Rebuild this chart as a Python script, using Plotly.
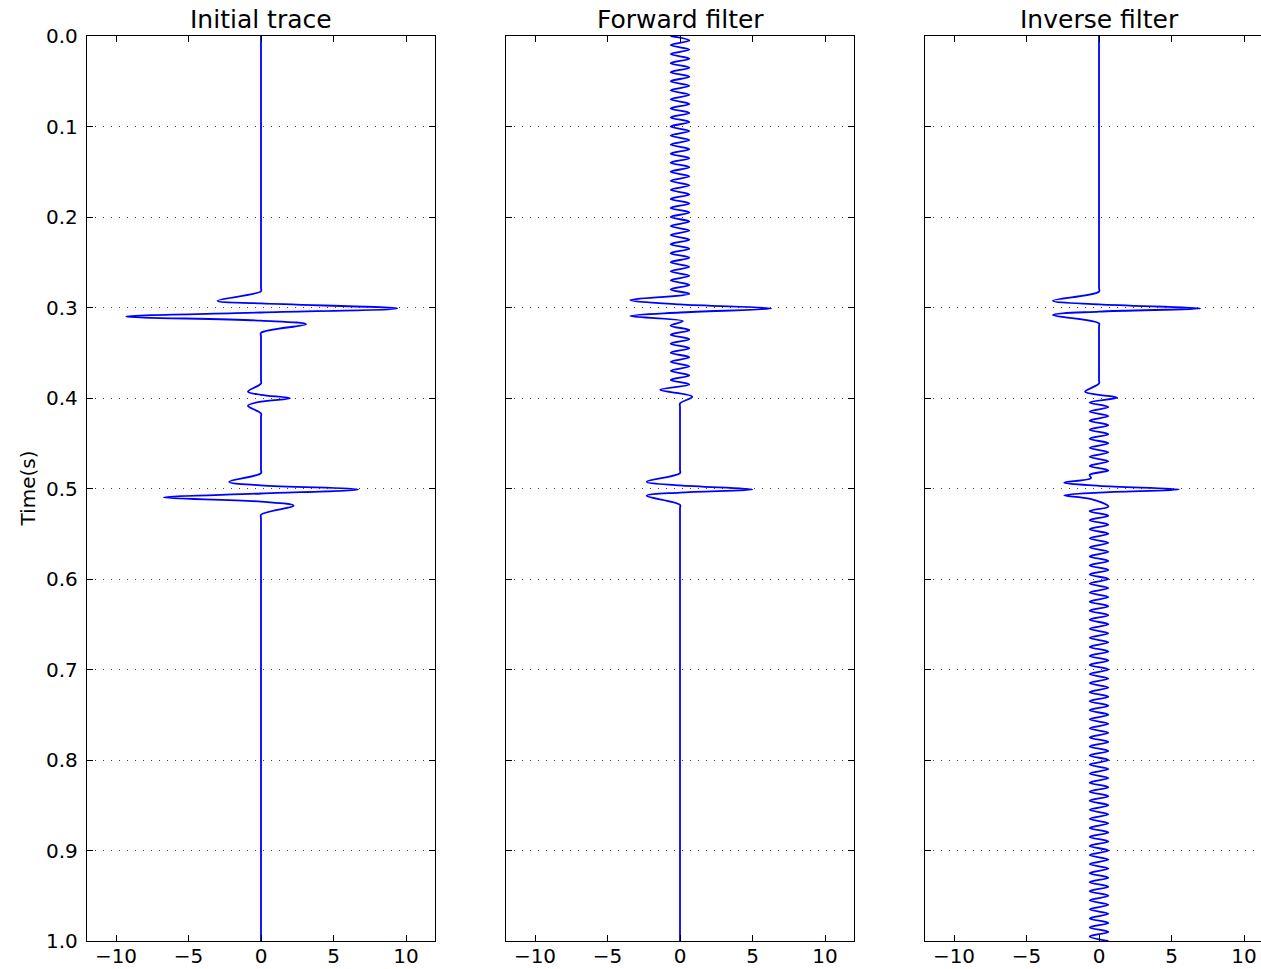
import plotly.graph_objects as go

# ---------------- data (time in s, amplitude) ----------------
TITLES = ["Initial trace", "Forward filter", "Inverse filter"]
Y_TICKS = [0.0, 0.1, 0.2, 0.3, 0.4, 0.5, 0.6, 0.7, 0.8, 0.9, 1.0]
Y_TICK_TEXT = ["0.0", "0.1", "0.2", "0.3", "0.4", "0.5", "0.6", "0.7", "0.8", "0.9", "1.0"]
X_TICKS = [-10, -5, 0, 5, 10]
X_TICK_TEXT = ["\u221210", "\u22125", "0", "5", "10"]

# Initial trace: key points (extrema / zero crossings)
INIT_T = [0.000, 0.278, 0.282, 0.2925, 0.2955, 0.301, 0.3055, 0.310, 0.3145, 0.3185,
          0.328, 0.332, 0.380, 0.384, 0.393, 0.3965, 0.4003, 0.404, 0.4085, 0.417,
          0.421, 0.479, 0.483, 0.4925, 0.4965, 0.501, 0.5055, 0.510, 0.5145, 0.519,
          0.529, 0.533, 1.000]
INIT_A = [0.0, 0.0, 0.0, -3.0, 0.0, 9.4, 0.0, -9.3, 0.0, 3.1,
          0.0, 0.0, 0.0, 0.0, -0.9, 0.0, 2.0, 0.0, -0.9, 0.0,
          0.0, 0.0, 0.0, -2.2, 0.0, 6.7, 0.0, -6.7, 0.0, 2.25,
          0.0, 0.0, 0.0]

# Forward filter: ringing before 0.3 s
FWD_RING1_T = [0.000, 0.005, 0.010, 0.015, 0.020, 0.025, 0.030, 0.035, 0.040, 0.045,
               0.050, 0.055, 0.060, 0.065, 0.070, 0.075, 0.080, 0.085, 0.090, 0.095,
               0.100, 0.105, 0.110, 0.115, 0.120, 0.125, 0.130, 0.135, 0.140, 0.145,
               0.150, 0.155, 0.160, 0.165, 0.170, 0.175, 0.180, 0.185, 0.190, 0.195,
               0.200, 0.205, 0.210, 0.215, 0.220, 0.225, 0.230, 0.235, 0.240, 0.245,
               0.250, 0.255, 0.260, 0.265, 0.270, 0.275, 0.280, 0.285]
FWD_RING1_A = [-0.65, 0.65, -0.65, 0.65, -0.65, 0.65, -0.65, 0.65, -0.65, 0.65,
               -0.65, 0.65, -0.65, 0.65, -0.65, 0.65, -0.65, 0.65, -0.65, 0.65,
               -0.65, 0.65, -0.65, 0.65, -0.65, 0.65, -0.65, 0.65, -0.65, 0.65,
               -0.65, 0.65, -0.65, 0.65, -0.65, 0.65, -0.65, 0.65, -0.65, 0.65,
               -0.65, 0.65, -0.65, 0.65, -0.65, 0.65, -0.65, 0.65, -0.65, 0.65,
               -0.65, 0.65, -0.65, 0.65, -0.65, 0.65, -0.65, 0.65]
FWD_EVENT1_T = [0.2917, 0.2965, 0.301, 0.3055, 0.3094, 0.315]
FWD_EVENT1_A = [-3.43, 0.0, 6.3, 0.0, -3.43, 0.2]
FWD_RING2_T = [0.320, 0.325, 0.330, 0.335, 0.340, 0.345, 0.350, 0.355, 0.360, 0.365,
               0.370, 0.375, 0.380, 0.385]
FWD_RING2_A = [-0.65, 0.65, -0.65, 0.65, -0.65, 0.65, -0.65, 0.65, -0.65, 0.65,
               -0.65, 0.65, -0.65, 0.65]
FWD_TAIL_T = [0.391, 0.3985, 0.406, 0.410, 0.479, 0.483, 0.4925, 0.4965, 0.501, 0.5045,
              0.508, 0.518, 0.522, 1.000]
FWD_TAIL_A = [-1.37, 0.84, 0.0, 0.0, 0.0, 0.0, -2.3, 0.0, 5.0, 0.0,
              -2.3, 0.0, 0.0, 0.0]

# Inverse filter
INV_HEAD_T = [0.000, 0.278, 0.2825, 0.2925, 0.2965, 0.301, 0.3045, 0.3083, 0.3175, 0.3215,
              0.380, 0.384, 0.393, 0.3965, 0.3997]
INV_HEAD_A = [0.0, 0.0, 0.0, -3.18, 0.0, 7.0, 0.0, -3.18, 0.0, 0.0,
              0.0, 0.0, -0.96, 0.0, 1.25]
INV_RING1_T = [0.405, 0.410, 0.415, 0.420, 0.425, 0.430, 0.435, 0.440, 0.445, 0.450,
               0.455, 0.460, 0.465, 0.470, 0.475, 0.480, 0.485]
INV_RING1_A = [-0.65, 0.65, -0.65, 0.65, -0.65, 0.65, -0.65, 0.65, -0.65, 0.65,
               -0.65, 0.65, -0.65, 0.65, -0.65, 0.65, -0.65]
INV_EVENT_T = [0.4885, 0.4935, 0.497, 0.501, 0.5045, 0.5076, 0.5115]
INV_EVENT_A = [-0.55, -2.4, 0.0, 5.53, 0.0, -2.4, -0.6]
INV_RING2_T = [0.520, 0.525, 0.530, 0.535, 0.540, 0.545, 0.550, 0.555, 0.560, 0.565,
               0.570, 0.575, 0.580, 0.585, 0.590, 0.595, 0.600, 0.605, 0.610, 0.615,
               0.620, 0.625, 0.630, 0.635, 0.640, 0.645, 0.650, 0.655, 0.660, 0.665,
               0.670, 0.675, 0.680, 0.685, 0.690, 0.695, 0.700, 0.705, 0.710, 0.715,
               0.720, 0.725, 0.730, 0.735, 0.740, 0.745, 0.750, 0.755, 0.760, 0.765,
               0.770, 0.775, 0.780, 0.785, 0.790, 0.795, 0.800, 0.805, 0.810, 0.815,
               0.820, 0.825, 0.830, 0.835, 0.840, 0.845, 0.850, 0.855, 0.860, 0.865,
               0.870, 0.875, 0.880, 0.885, 0.890, 0.895, 0.900, 0.905, 0.910, 0.915,
               0.920, 0.925, 0.930, 0.935, 0.940, 0.945, 0.950, 0.955, 0.960, 0.965,
               0.970, 0.975, 0.980, 0.985, 0.990, 0.995, 1.000]
INV_RING2_A = [0.65, -0.65, 0.65, -0.65, 0.65, -0.65, 0.65, -0.65, 0.65, -0.65,
               0.65, -0.65, 0.65, -0.65, 0.65, -0.65, 0.65, -0.65, 0.65, -0.65,
               0.65, -0.65, 0.65, -0.65, 0.65, -0.65, 0.65, -0.65, 0.65, -0.65,
               0.65, -0.65, 0.65, -0.65, 0.65, -0.65, 0.65, -0.65, 0.65, -0.65,
               0.65, -0.65, 0.65, -0.65, 0.65, -0.65, 0.65, -0.65, 0.65, -0.65,
               0.65, -0.65, 0.65, -0.65, 0.65, -0.65, 0.65, -0.65, 0.65, -0.65,
               0.65, -0.65, 0.65, -0.65, 0.65, -0.65, 0.65, -0.65, 0.65, -0.65,
               0.65, -0.65, 0.65, -0.65, 0.65, -0.65, 0.65, -0.65, 0.65, -0.65,
               0.65, -0.65, 0.65, -0.65, 0.65, -0.65, 0.65, -0.65, 0.65, -0.65,
               0.65, -0.65, 0.65, -0.65, 0.65, -0.65, 0.65]

traces = [
    (INIT_T, INIT_A),
    (FWD_RING1_T + FWD_EVENT1_T + FWD_RING2_T + FWD_TAIL_T,
     FWD_RING1_A + FWD_EVENT1_A + FWD_RING2_A + FWD_TAIL_A),
    (INV_HEAD_T + INV_RING1_T + INV_EVENT_T + INV_RING2_T,
     INV_HEAD_A + INV_RING1_A + INV_EVENT_A + INV_RING2_A),
]

# ---------------- layout geometry ----------------
W, H = 1261, 969
FONT = "DejaVu Sans"
px_left = [87, 506, 925]
px_right = [435, 854, 1261]
x_ranges = [[-12, 12], [-12, 12], [-12, -12 + (1261 - 925) / 14.5]]
y_dom = [1 - 941 / H, 1 - 36 / H]

fig = go.Figure()
for i, (t, a) in enumerate(traces):
    sfx = "" if i == 0 else str(i + 1)
    fig.add_trace(go.Scatter(
        x=a, y=t, mode="lines",
        line=dict(color="#0000ff", width=1.8, shape="spline", smoothing=1.0),
        xaxis="x" + sfx, yaxis="y" + sfx, showlegend=False, hoverinfo="skip"))

layout = dict(
    width=W, height=H, margin=dict(l=0, r=0, t=0, b=0, autoexpand=False),
    paper_bgcolor="white", plot_bgcolor="white",
    font=dict(family=FONT, color="black", size=20),
    showlegend=False,
)
for i in range(3):
    sfx = "" if i == 0 else str(i + 1)
    layout["xaxis" + sfx] = dict(
        domain=[px_left[i] / W, px_right[i] / W], range=x_ranges[i],
        anchor="y" + sfx, tickmode="array", tickvals=X_TICKS, ticktext=X_TICK_TEXT,
        ticks="inside", ticklen=6, tickwidth=1, tickcolor="black",
        showline=True, linecolor="black", linewidth=1.3, mirror="ticks",
        showgrid=False, zeroline=False, tickfont=dict(size=20, family=FONT),
        ticklabelstandoff=-3, automargin=False, fixedrange=True)
    layout["yaxis" + sfx] = dict(
        domain=y_dom, range=[1.0, 0.0], anchor="x" + sfx,
        tickmode="array", tickvals=Y_TICKS, ticktext=Y_TICK_TEXT,
        showticklabels=(i == 0),
        ticks="inside", ticklen=6, tickwidth=1, tickcolor="black",
        showline=True, linecolor="black", linewidth=1.3,
        mirror=("ticks" if i < 2 else False),
        showgrid=True, gridcolor="#444444", gridwidth=1, griddash="1px,7px",
        zeroline=False, tickfont=dict(size=20, family=FONT),
        ticklabelstandoff=4, automargin=False, fixedrange=True)

annotations = []
for i, title in enumerate(TITLES):
    right = px_right[i] if i < 2 else 1273
    cx = (px_left[i] + right) / 2
    annotations.append(dict(
        text=title, x=cx / W, y=1 - 20 / H, xref="paper", yref="paper",
        xanchor="center", yanchor="middle", showarrow=False,
        font=dict(size=25, family=FONT, color="black")))
annotations.append(dict(
    text="Time(s)", x=27 / W, y=1 - 488.5 / H, xref="paper", yref="paper",
    xanchor="center", yanchor="middle", showarrow=False, textangle=-90,
    font=dict(size=20, family=FONT, color="black")))
layout["annotations"] = annotations

fig.update_layout(**layout)
fig.write_html("out.html")
